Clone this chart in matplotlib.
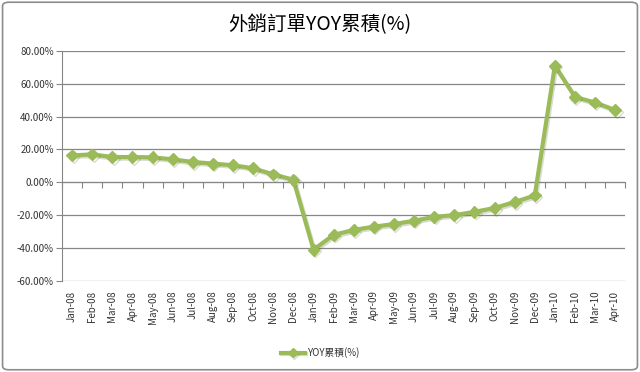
import matplotlib
matplotlib.use('Agg')
import matplotlib.pyplot as plt
import matplotlib.patheffects as pe
from matplotlib.patches import FancyBboxPatch
from matplotlib.ticker import FuncFormatter
import numpy as np

plt.rcParams['font.family'] = ['Noto Sans CJK TC', 'DejaVu Sans']

title = '外銷訂單YOY累積(%)'
series_name = 'YOY累積(%)'
months = ['Jan-08', 'Feb-08', 'Mar-08', 'Apr-08', 'May-08', 'Jun-08', 'Jul-08',
          'Aug-08', 'Sep-08', 'Oct-08', 'Nov-08', 'Dec-08',
          'Jan-09', 'Feb-09', 'Mar-09', 'Apr-09', 'May-09', 'Jun-09', 'Jul-09',
          'Aug-09', 'Sep-09', 'Oct-09', 'Nov-09', 'Dec-09',
          'Jan-10', 'Feb-10', 'Mar-10', 'Apr-10']
yoy = [16.4, 17.0, 15.4, 15.4, 15.2, 14.0, 12.4, 11.4, 10.4, 8.6, 4.8, 1.6,
       -41.0, -32.0, -29.0, -27.0, -25.4, -23.4, -21.0, -20.0, -18.0, -15.6, -12.0, -8.0,
       71.0, 52.0, 48.6, 44.0]

green = '#9bbb59'
grid_c = '#868686'

fig = plt.figure(figsize=(6.4, 3.72), dpi=100)
fig.patches.append(FancyBboxPatch((0.004, 0.006), 0.992, 0.988, boxstyle='round,pad=0,rounding_size=0.01',
                                  transform=fig.transFigure, facecolor='white', edgecolor='#8c8c8c',
                                  linewidth=1.2, zorder=-1))
ax = fig.add_axes([0.097, 0.245, 0.88, 0.618])
ax.set_facecolor('none')

x = np.arange(len(months))
ax.plot(x, yoy, color=green, lw=3, marker='D', ms=6, mfc=green, mec=green, label=series_name,
        path_effects=[pe.SimpleLineShadow(offset=(1, -1.2), shadow_color='#6b7a4a', alpha=0.25),
                      pe.Normal()], zorder=3)

ax.set_xlim(-0.5, len(months) - 0.5)
ax.set_ylim(-60, 80)
ax.set_yticks(np.arange(-60, 81, 20))
ax.yaxis.set_major_formatter(FuncFormatter(lambda v, p: f'{v:.2f}%'))
ax.grid(axis='y', color=grid_c, lw=0.9)
ax.set_axisbelow(True)
for s in ['top', 'right', 'bottom']:
    ax.spines[s].set_visible(False)
ax.spines['left'].set_color(grid_c)
ax.tick_params(axis='y', length=4, color=grid_c, labelsize=7, labelcolor='#333333', pad=2)

ax.set_xticks(x)
ax.set_xticklabels(months, rotation=90, fontsize=7, color='#333333')
ax.tick_params(axis='x', length=0, pad=7)

# category axis drawn at 0 with tick marks between categories
sec = ax.secondary_xaxis(60 / 140)
sec.set_xticks(np.arange(-0.5, len(months), 1))
sec.set_xticklabels([])
sec.tick_params(axis='x', direction='out', length=4, color=grid_c)
sec.spines['bottom'].set_color(grid_c)

fig.text(0.5, 0.935, title, ha='center', va='center', fontsize=14, color='#000000')
fig.legend(loc='center', bbox_to_anchor=(0.5, 0.052), frameon=False, fontsize=7,
           handlelength=2.5, handletextpad=0.2, labelcolor='#333333', markerscale=0.8)

fig.savefig('out.png', dpi=100)
